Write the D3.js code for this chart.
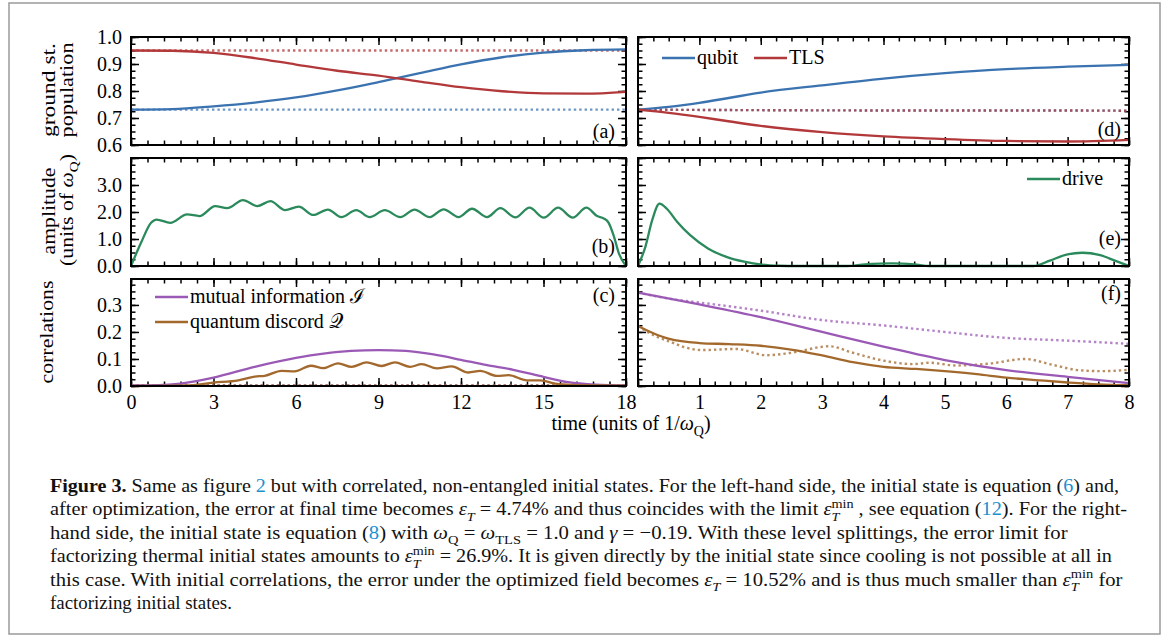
<!DOCTYPE html>
<html>
<head>
<meta charset="utf-8">
<script src="https://cdn.jsdelivr.net/npm/d3@7"></script>
<style>
  body { margin: 0; background: #fff; }
  text { font-family: "Liberation Serif", "DejaVu Serif", serif; }
</style>
</head>
<body>
<svg id="fig" width="1168" height="637"></svg>
<script>
// ---- panel (a): ground state population, left-hand side ----
const tA = [0, 1.5, 3, 4.5, 6, 7.5, 9, 10.5, 12, 13.5, 15, 16.5, 18];
const qubitA = [0.731, 0.733, 0.743, 0.757, 0.776, 0.802, 0.833, 0.866, 0.899, 0.925, 0.942, 0.951, 0.954];
const tlsA = [0.95, 0.949, 0.941, 0.922, 0.898, 0.875, 0.857, 0.835, 0.814, 0.799, 0.791, 0.79, 0.797];
const tRefA = [0, 18];
const qubitRefA = [0.731, 0.731];
const tlsRefA = [0.95, 0.95];

// ---- panel (d): ground state population, right-hand side ----
const tD = [0, 0.5, 1, 1.5, 2, 3, 4, 5, 6, 7, 8];
const qubitD = [0.731, 0.741, 0.756, 0.775, 0.794, 0.821, 0.846, 0.866, 0.881, 0.89, 0.897];
const tlsD = [0.731, 0.719, 0.704, 0.687, 0.671, 0.648, 0.632, 0.622, 0.615, 0.613, 0.619];
const tRefD = [0, 2, 4, 6, 8];
const refD = [0.731, 0.729, 0.728, 0.728, 0.727];

// ---- panel (b): drive amplitude ----
const tB = [0, 0.36, 0.73, 0.93, 1.43, 2.04, 2.49, 3.06, 3.5, 4.07, 4.59, 5.07, 5.6, 6.1, 6.63, 7.16, 7.65,
  8.19, 8.68, 9.23, 9.79, 10.31, 10.86, 11.37, 11.91, 12.4, 12.95, 13.43, 13.98, 14.49, 15.01, 15.53,
  16.06, 16.56, 16.95, 17.19, 17.37, 17.56, 17.74, 18];
const driveB = [0, 0.85, 1.6, 1.72, 1.6, 1.91, 1.85, 2.22, 2.14, 2.44, 2.22, 2.4, 2.07, 2.2, 1.89, 2.09, 1.81,
  2.07, 1.81, 2.07, 1.81, 2.09, 1.81, 2.1, 1.81, 2.12, 1.81, 2.14, 1.8, 2.16, 1.79, 2.16,
  1.79, 2.16, 1.85, 1.76, 1.6, 1.1, 0.47, 0];

// ---- panel (e): drive amplitude ----
const tE = [0, 0.12, 0.23, 0.35, 0.47, 0.64, 0.85, 1.14, 1.44, 1.73, 2.02, 2.3, 2.6, 3.4, 3.7, 4.13, 4.5, 4.75,
  6.45, 6.71, 7.0, 7.24, 7.53, 7.77, 8];
const driveE = [0, 0.71, 1.69, 2.31, 2.12, 1.63, 1.14, 0.65, 0.34, 0.16, 0.05, 0.01, 0, 0, 0.06, 0.1, 0.06, 0,
  0, 0.2, 0.43, 0.49, 0.4, 0.2, 0];

// ---- panel (c): correlations ----
const tMutC = [0, 1, 1.8, 3, 4.5, 6, 7, 8, 9, 10, 11, 12, 12.9, 13.9, 15, 15.9, 16.9, 18];
const mutualC = [0.002, 0.003, 0.009, 0.031, 0.071, 0.104, 0.12, 0.13, 0.133, 0.13, 0.117, 0.097, 0.078, 0.06,
  0.034, 0.014, 0.005, 0.002];
const tDisC = [0, 2, 3, 3.9, 4.5, 4.86, 5.47, 5.95, 6.54, 6.99, 7.53, 8.02, 8.57, 9.11, 9.6, 10.15, 10.57,
  11.12, 11.66, 12.27, 12.7, 13.3, 13.73, 14.4, 14.88, 15.43, 16.04, 17, 18];
const discordC = [0, 0.002, 0.0125, 0.021, 0.035, 0.0375, 0.056, 0.054, 0.075, 0.066, 0.084, 0.071, 0.0875,
  0.074, 0.0875, 0.071, 0.081, 0.065, 0.0725, 0.05, 0.056, 0.0375, 0.04, 0.021, 0.021, 0.009, 0.004, 0.002, 0.001];
const tRefC = [0, 18];
const refC = [0.002, 0.002];

// ---- panel (f): correlations ----
const tMutF = [0, 1, 2, 3, 4, 5, 6, 7, 8];
const mutualF = [0.346, 0.302, 0.255, 0.2, 0.146, 0.096, 0.059, 0.034, 0.011];
const tMutRefF = [0, 0.6, 1, 2, 3, 4, 5, 6, 7, 8];
const mutualRefF = [0.346, 0.32, 0.309, 0.279, 0.244, 0.224, 0.2, 0.178, 0.168, 0.156];
const tDisF = [0, 0.24, 0.51, 1, 1.49, 2, 2.52, 3, 3.5, 4, 4.53, 5, 5.52, 6, 6.54, 7, 7.5, 8];
const discordF = [0.222, 0.196, 0.174, 0.159, 0.155, 0.149, 0.134, 0.113, 0.088, 0.071, 0.063, 0.055, 0.044,
  0.031, 0.021, 0.013, 0.006, 0.003];
const tDisRefF = [0, 0.29, 0.51, 0.78, 1.05, 1.6, 2.09, 2.47, 3.12, 3.5, 4, 4.48, 4.75, 5.18, 5.73, 6.3, 6.76,
  7.2, 7.57, 8];
const discordRefF = [0.222, 0.184, 0.165, 0.142, 0.133, 0.137, 0.114, 0.122, 0.147, 0.123, 0.094, 0.081, 0.086,
  0.076, 0.083, 0.1, 0.078, 0.058, 0.055, 0.06];

// tick labels
const xLabelsLeft = [0, 3, 6, 9, 12, 15, 18];
const xLabelsRight = [1, 2, 3, 4, 5, 6, 7, 8];
const yLabelsA = [0.6, 0.7, 0.8, 0.9, 1.0];
const yLabelsB = [0, 1, 2, 3];
const yLabelsC = [0, 0.1, 0.2, 0.3];

const BLUE = '#3b73b1', RED = '#b2383a', GREEN = '#2b8a5b', PURPLE = '#9b59b6', BROWN = '#a3682c';
const FONT = '"Liberation Serif", "DejaVu Serif", serif';

let svg = d3.select('#fig');

// grey frame around figure + caption
svg.append('rect')
  .attr('x', 9).attr('y', 3).attr('width', 1151).attr('height', 631)
  .attr('fill', 'none').attr('stroke', '#9a9a9a').attr('stroke-width', 1.5);

// text with sub/superscripts, bold and links
function rich(sel, segs, fs) {
  let shift = 0, dx = 0;
  segs.forEach(([s, k]) => {
    let want = (k === 'sub' || k === 'subi') ? 0.28 * fs : (k === 'tm' ? -0.4 * fs : 0);
    let sp = sel.append('tspan').attr('dy', want - shift).text(s);
    if (dx) sp.attr('dx', dx);
    dx = 0;
    shift = want;
    if (k === 'sub' || k === 'subi' || k === 'tm') sp.attr('font-size', 0.7 * fs);
    if (k === 'b') sp.attr('font-weight', 'bold');
    if (k === 'l') sp.attr('fill', '#1d8fcf');
    if (k === 'i' || k === 'subi') sp.attr('font-style', 'italic');
    if (k === 'tm') {
      // stacked T subscript under the "min" superscript
      let w = sp.node().getComputedTextLength();
      let t = sel.append('tspan').attr('font-size', 0.7 * fs).attr('font-style', 'italic')
        .attr('dx', -w).attr('dy', 0.28 * fs - shift).text('T');
      shift = 0.28 * fs;
      dx = w - t.node().getComputedTextLength();
    }
  });
}

function panel(col, row, xd, yd, xs, xm, ys, ym) {
  let x = d3.scaleLinear().domain(xd).range(col);
  let y = d3.scaleLinear().domain(yd).range([row[1], row[0]]);
  let g = svg.append('g');
  let grid = (d, s) => d3.range(Math.ceil(d[0] / s - 1e-6), Math.floor(d[1] / s + 1e-6) + 1)
    .map(i => +(i * s).toFixed(4));

  // inward ticks on all four sides, minor then major
  let sides = [
    [d3.axisBottom, x, 0, row[1]], [d3.axisTop, x, 0, row[0]],
    [d3.axisLeft, y, col[0], 0], [d3.axisRight, y, col[1], 0]
  ];
  sides.forEach(([ax, sc, tx, ty]) => {
    let isX = sc === x;
    [[isX ? xm : ym, 4.5], [isX ? xs : ys, 8]].forEach(([step, len]) => {
      g.append('g')
        .attr('transform', `translate(${tx},${ty})`)
        .call(ax(sc).tickValues(grid(isX ? xd : yd, step)).tickSize(-len).tickFormat(''))
        .call(a => a.select('.domain').remove())
        .selectAll('line').attr('stroke-width', 1.5);
    });
  });
  return {x: x, y: y, g: g, col: col, row: row};
}

function box(p) {
  p.g.append('rect')
    .attr('x', p.col[0]).attr('y', p.row[0])
    .attr('width', p.col[1] - p.col[0]).attr('height', p.row[1] - p.row[0])
    .attr('fill', 'none').attr('stroke', '#000').attr('stroke-width', 2);
}

function curve(p, ts, vs, color, dotted) {
  let line = d3.line()
    .x(d => p.x(d[0]))
    .y(d => p.y(d[1]))
    .curve(d3.curveMonotoneX);
  p.g.append('path')
    .datum(d3.zip(ts, vs))
    .attr('d', line)
    .attr('fill', 'none')
    .attr('stroke', color)
    .attr('stroke-width', dotted ? 2.4 : 2.3)
    .attr('stroke-dasharray', dotted ? '2.4,3' : null)
    .attr('opacity', dotted ? 0.75 : 1);
}

function tickLabels(axisFn, scale, vals, fmt, tx, ty) {
  svg.append('g')
    .attr('transform', `translate(${tx},${ty})`)
    .call(axisFn(scale).tickValues(vals).tickSize(0).tickPadding(9).tickFormat(fmt))
    .attr('font-family', FONT)
    .attr('font-size', 20)
    .call(a => a.select('.domain').remove());
}

function legendItem(x, y, color, segs) {
  svg.append('line')
    .attr('x1', x).attr('x2', x + 33).attr('y1', y).attr('y2', y)
    .attr('stroke', color).attr('stroke-width', 2.3);
  let t = svg.append('text').attr('x', x + 35).attr('y', y + 6).attr('font-size', 20);
  rich(t, segs, 20);
}

const left = [131, 626], right = [638, 1129];
const rowA = [37, 145], rowB = [158, 266], rowC = [279, 386];

let pa = panel(left, rowA, [0, 18], [0.6, 1.0], 3, 0.6, 0.1, 0.025);
let pd = panel(right, rowA, [0, 8], [0.6, 1.0], 1, 0.25, 0.1, 0.025);
let pb = panel(left, rowB, [0, 18], [0, 4], 3, 0.6, 1, 0.25);
let pe = panel(right, rowB, [0, 8], [0, 4], 1, 0.25, 1, 0.25);
let pc = panel(left, rowC, [0, 18], [0, 0.396], 3, 0.6, 0.1, 0.025);
let pf = panel(right, rowC, [0, 8], [0, 0.396], 1, 0.25, 0.1, 0.025);

// (a)
curve(pa, tRefA, qubitRefA, BLUE, true);
curve(pa, tRefA, tlsRefA, RED, true);
curve(pa, tA, qubitA, BLUE);
curve(pa, tA, tlsA, RED);
// (d)
curve(pd, tRefD, refD, BLUE, true);
curve(pd, tRefD, refD, RED, true);
curve(pd, tD, qubitD, BLUE);
curve(pd, tD, tlsD, RED);
// (b), (e)
curve(pb, tB, driveB, GREEN);
curve(pe, tE, driveE, GREEN);
// (c)
curve(pc, tRefC, refC, PURPLE, true);
curve(pc, tRefC, refC, BROWN, true);
curve(pc, tMutC, mutualC, PURPLE);
curve(pc, tDisC, discordC, BROWN);
// (f)
curve(pf, tMutRefF, mutualRefF, PURPLE, true);
curve(pf, tDisRefF, discordRefF, BROWN, true);
curve(pf, tMutF, mutualF, PURPLE);
curve(pf, tDisF, discordF, BROWN);

[pa, pb, pc, pd, pe, pf].forEach(box);

// tick labels
tickLabels(d3.axisLeft, pa.y, yLabelsA, d3.format('.1f'), left[0], 0);
tickLabels(d3.axisLeft, pb.y, yLabelsB, d3.format('.1f'), left[0], 0);
tickLabels(d3.axisLeft, pc.y, yLabelsC, d3.format('.1f'), left[0], 0);
tickLabels(d3.axisBottom, pc.x, xLabelsLeft, d3.format('d'), 0, rowC[1]);
tickLabels(d3.axisBottom, pf.x, xLabelsRight, d3.format('d'), 0, rowC[1]);

// panel letters
[['(a)', 615, 138], ['(b)', 615, 253], ['(c)', 615, 302],
 ['(d)', 1121, 136], ['(e)', 1121, 245], ['(f)', 1121, 300]].forEach(([s, x, y]) => {
  svg.append('text').attr('x', x).attr('y', y).attr('text-anchor', 'end')
    .attr('font-size', 20).text(s);
});

// legends
legendItem(662, 58, BLUE, [['qubit', 'n']]);
legendItem(754, 58, RED, [['TLS', 'n']]);
legendItem(1027, 179, GREEN, [['drive', 'n']]);
legendItem(155, 297, PURPLE, [['mutual information ', 'n'], ['ℐ', 'n']]);
legendItem(155, 322, BROWN, [['quantum discord ', 'n'], ['𝒬', 'n']]);

// rotated axis titles, stretched along the text to the reference length
function rotText(x, y, len, segs) {
  let t = svg.append('text')
    .attr('text-anchor', 'middle').attr('font-size', 18);
  rich(t, segs, 18);
  let k = len / t.node().getBBox().width;
  t.attr('transform', `translate(${x},${y}) rotate(-90) scale(${k},1)`);
}
rotText(55, 90, 94, [['ground st.', 'n']]);
rotText(73, 90, 95, [['population', 'n']]);
rotText(55, 211, 87, [['amplitude', 'n']]);
rotText(73, 210, 112, [['(units of ', 'n'], ['ω', 'i'], ['Q', 'sub'], [')', 'n']]);
rotText(53, 332, 103, [['correlations', 'n']]);

let xt = svg.append('text').attr('x', 631).attr('y', 430)
  .attr('text-anchor', 'middle').attr('font-size', 20);
rich(xt, [['time (units of 1/', 'n'], ['ω', 'i'], ['Q', 'sub'], [')', 'n']], 20);

// caption
const caption = [
  [['Figure 3.', 'b'], [' Same as figure ', 'n'], ['2', 'l'],
   [' but with correlated, non-entangled initial states. For the left-hand side, the initial state is equation (', 'n'],
   ['6', 'l'], [') and,', 'n']],
  [['after optimization, the error at final time becomes ', 'n'], ['ε', 'i'], ['T', 'subi'],
   [' = 4.74% and thus coincides with the limit ', 'n'], ['ε', 'i'], ['min', 'tm'],
   [' , see equation (', 'n'], ['12', 'l'], ['). For the right-', 'n']],
  [['hand side, the initial state is equation (', 'n'], ['8', 'l'], [') with ', 'n'], ['ω', 'i'], ['Q', 'sub'],
   [' = ', 'n'], ['ω', 'i'], ['TLS', 'sub'], [' = 1.0 and ', 'n'], ['γ', 'i'],
   [' = −0.19. With these level splittings, the error limit for', 'n']],
  [['factorizing thermal initial states amounts to ', 'n'], ['ε', 'i'], ['min', 'tm'],
   [' = 26.9%. It is given directly by the initial state since cooling is not possible at all in', 'n']],
  [['this case. With initial correlations, the error under the optimized field becomes ', 'n'], ['ε', 'i'],
   ['T', 'subi'], [' = 10.52% and is thus much smaller than ', 'n'], ['ε', 'i'], ['min', 'tm'], ['  for', 'n']],
  [['factorizing initial states.', 'n']]
];
const captionEnds = [1120, 1128, 1069, 1113, 1124, 232];

caption.forEach((segs, i) => {
  let t = svg.append('text').attr('font-size', 19).attr('fill', '#111');
  rich(t, segs, 19);
  let bb = t.node().getBBox();
  let k = (captionEnds[i] - 50) / (bb.x + bb.width);
  t.attr('transform', `translate(50,${492 + i * 23.4}) scale(${k},1)`);
});
</script>
</body>
</html>
